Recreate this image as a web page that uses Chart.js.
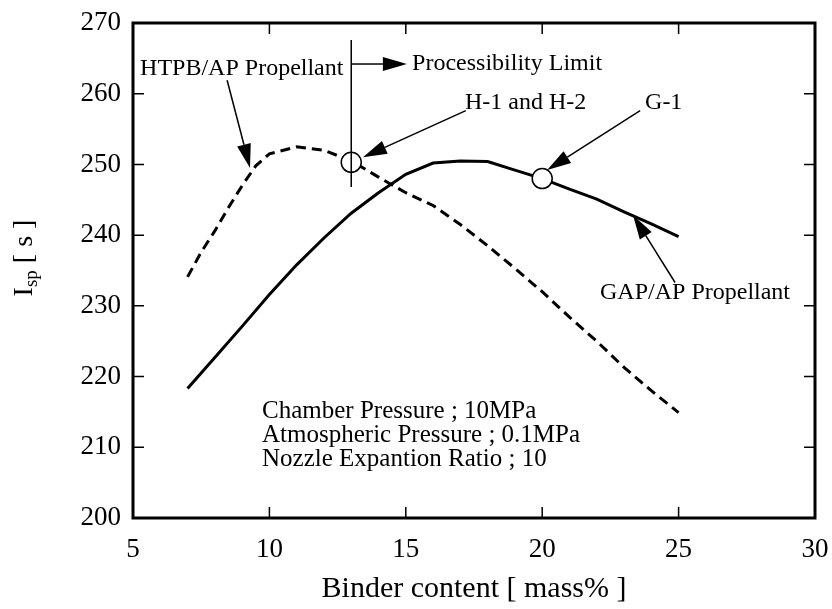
<!DOCTYPE html>
<html>
<head>
<meta charset="utf-8">
<script src="https://cdn.jsdelivr.net/npm/chart.js@4.4.1/dist/chart.umd.min.js"></script>
<style>
  html, body { margin: 0; padding: 0; background: #fff; }
  #wrap { width: 832px; height: 609px; }
</style>
</head>
<body>
<div id="wrap"><canvas id="chart"></canvas></div>
<script>
// GAP/AP propellant (solid)
const gapBinder = [7, 8, 9, 10, 11, 12, 13, 14, 15, 16, 17, 18, 19, 20, 21, 22, 23, 24, 25];
const gapIsp = [218.3, 222.7, 227.1, 231.6, 235.8, 239.6, 243.1, 246.0, 248.6, 250.2, 250.5, 250.4, 249.2, 248.0, 246.5, 245.1, 243.3, 241.6, 239.8];

// HTPB/AP propellant (dashed)
const htpbBinder = [7, 7.5, 8, 8.5, 9, 9.5, 10, 11, 12, 13, 14, 15, 16, 17, 18, 19, 20, 21, 22, 23, 24, 25];
const htpbIsp = [234.1, 237.6, 240.6, 243.9, 247.0, 249.8, 251.5, 252.5, 252.0, 250.5, 248.2, 246.0, 244.2, 241.5, 238.5, 235.3, 232.0, 228.4, 225.0, 221.3, 218.0, 214.9];

// marked formulations
const markBinder = [13, 20];
const markIsp = [250.3, 248.0];

const xTicks = [5, 10, 15, 20, 25, 30];
const yTicks = [200, 210, 220, 230, 240, 250, 260, 270];

const serif = '"Liberation Serif", "Times New Roman", serif';

// annotations in data coordinates
const labels = [
    { text: 'HTPB/AP Propellant', x: 5.26, y: 263.6, size: 24 },
    { text: 'Processibility Limit', x: 15.23, y: 264.2, size: 24 },
    { text: 'H-1 and H-2', x: 17.17, y: 258.7, size: 24 },
    { text: 'G-1', x: 23.77, y: 258.7, size: 24 },
    { text: 'GAP/AP Propellant', x: 22.12, y: 231.8, size: 24 },
    { text: 'Chamber Pressure ; 10MPa', x: 9.73, y: 215.1, size: 25 },
    { text: 'Atmospheric Pressure ; 0.1MPa', x: 9.73, y: 211.7, size: 25 },
    { text: 'Nozzle Expantion Ratio ; 10', x: 9.73, y: 208.3, size: 25 }
];
const arrows = [
    { from: [8.45, 261.9], to: [9.29, 249.5] },
    { from: [13, 264.2], to: [15.04, 264.2] },
    { from: [17.2, 257.6], to: [13.43, 251.0] },
    { from: [23.59, 257.6], to: [20.18, 249.2] },
    { from: [24.87, 233.3], to: [23.33, 242.8] }
];
const limitLine = { x: 13, y1: 267.6, y2: 246.8 };

const toPoints = (xs, ys) => xs.map((x, i) => ({ x: x, y: ys[i] }));

const drawArrow = (ctx, x1, y1, x2, y2) => {
    let ang = Math.atan2(y2 - y1, x2 - x1);
    let len = 24, half = 7;
    let bx = x2 - len * Math.cos(ang);
    let by = y2 - len * Math.sin(ang);
    ctx.beginPath();
    ctx.moveTo(x1, y1);
    ctx.lineTo(bx, by);
    ctx.stroke();
    ctx.beginPath();
    ctx.moveTo(x2, y2);
    ctx.lineTo(bx - half * Math.sin(ang), by + half * Math.cos(ang));
    ctx.lineTo(bx + half * Math.sin(ang), by - half * Math.cos(ang));
    ctx.closePath();
    ctx.fill();
}

const framePlugin = {
    id: 'frame',
    beforeDatasetsDraw(chart) {
        let ctx = chart.ctx;
        let a = chart.chartArea;
        let xs = chart.scales.x, ys = chart.scales.y;
        ctx.save();
        ctx.strokeStyle = '#000';
        ctx.lineWidth = 1.5;
        xTicks.forEach(v => {
            let px = xs.getPixelForValue(v);
            ctx.beginPath();
            ctx.moveTo(px, a.bottom); ctx.lineTo(px, a.bottom - 11);
            ctx.moveTo(px, a.top); ctx.lineTo(px, a.top + 11);
            ctx.stroke();
        });
        yTicks.forEach(v => {
            let py = ys.getPixelForValue(v);
            ctx.beginPath();
            ctx.moveTo(a.left, py); ctx.lineTo(a.left + 11, py);
            ctx.moveTo(a.right, py); ctx.lineTo(a.right - 11, py);
            ctx.stroke();
        });
        ctx.lineWidth = 3;
        ctx.strokeRect(a.left, a.top, a.right - a.left, a.bottom - a.top);
        ctx.restore();
    },
    afterDraw(chart) {
        let ctx = chart.ctx;
        let xs = chart.scales.x, ys = chart.scales.y;
        ctx.save();
        ctx.fillStyle = '#000';
        ctx.strokeStyle = '#000';
        ctx.lineWidth = 1.5;

        // processibility limit line
        ctx.beginPath();
        ctx.moveTo(xs.getPixelForValue(limitLine.x), ys.getPixelForValue(limitLine.y1));
        ctx.lineTo(xs.getPixelForValue(limitLine.x), ys.getPixelForValue(limitLine.y2));
        ctx.stroke();

        arrows.forEach(ar => {
            drawArrow(ctx,
                xs.getPixelForValue(ar.from[0]), ys.getPixelForValue(ar.from[1]),
                xs.getPixelForValue(ar.to[0]), ys.getPixelForValue(ar.to[1]));
        });

        ctx.textAlign = 'left';
        ctx.textBaseline = 'middle';
        labels.forEach(l => {
            ctx.font = l.size + 'px ' + serif;
            ctx.fillText(l.text, xs.getPixelForValue(l.x), ys.getPixelForValue(l.y));
        });

        // y axis title with subscript
        ctx.translate(25, 258);
        ctx.rotate(-Math.PI / 2);
        ctx.textBaseline = 'middle';
        let big = '28px ' + serif, small = '19px ' + serif;
        ctx.font = big;
        let w1 = ctx.measureText('I').width;
        let w3 = ctx.measureText(' [ s ]').width;
        ctx.font = small;
        let w2 = ctx.measureText('sp').width;
        let x0 = -(w1 + w2 + w3) / 2;
        ctx.font = big;
        ctx.fillText('I', x0, 0);
        ctx.font = small;
        ctx.fillText('sp', x0 + w1, 7);
        ctx.font = big;
        ctx.fillText(' [ s ]', x0 + w1 + w2, 0);
        ctx.restore();
    }
};

let el = document.querySelector('#chart');
let chart = new Chart(el, {
    type: 'scatter',
    data: {
        datasets: [
            {
                label: 'H-1 and H-2 / G-1',
                data: toPoints(markBinder, markIsp),
                pointRadius: 10,
                pointBackgroundColor: '#fff',
                pointBorderColor: '#000',
                pointBorderWidth: 1.5,
                showLine: false
            },
            {
                label: 'GAP/AP Propellant',
                data: toPoints(gapBinder, gapIsp),
                showLine: true,
                borderColor: '#000',
                borderWidth: 3,
                pointRadius: 0,
                tension: 0
            },
            {
                label: 'HTPB/AP Propellant',
                data: toPoints(htpbBinder, htpbIsp),
                showLine: true,
                borderColor: '#000',
                borderWidth: 3,
                borderDash: [10, 6],
                pointRadius: 0,
                tension: 0
            }
        ]
    },
    options: {
        responsive: true,
        maintainAspectRatio: false,
        animation: false,
        layout: { padding: { top: 23, right: 17, left: 0, bottom: 0 } },
        plugins: {
            legend: { display: false },
            tooltip: { enabled: false }
        },
        scales: {
            x: {
                type: 'linear',
                min: 5,
                max: 30,
                afterFit: (s) => { s.height = 91; s.paddingLeft = 0; s.paddingRight = 0; },
                afterBuildTicks: (s) => { s.ticks = xTicks.map(v => ({ value: v })); },
                ticks: {
                    color: '#000',
                    font: { family: serif, size: 27 },
                    padding: 16
                },
                grid: { display: false, drawTicks: false },
                border: { display: false },
                title: {
                    display: true,
                    text: 'Binder content [ mass% ]',
                    color: '#000',
                    font: { family: serif, size: 30 },
                    padding: { top: 0, bottom: 2 }
                }
            },
            y: {
                min: 200,
                max: 270,
                afterFit: (s) => { s.width = 133; s.paddingTop = 0; s.paddingBottom = 0; },
                afterBuildTicks: (s) => { s.ticks = yTicks.map(v => ({ value: v })); },
                ticks: {
                    color: '#000',
                    font: { family: serif, size: 27 },
                    padding: 12
                },
                grid: { display: false, drawTicks: false },
                border: { display: false }
            }
        }
    },
    plugins: [framePlugin]
});
</script>
</body>
</html>
